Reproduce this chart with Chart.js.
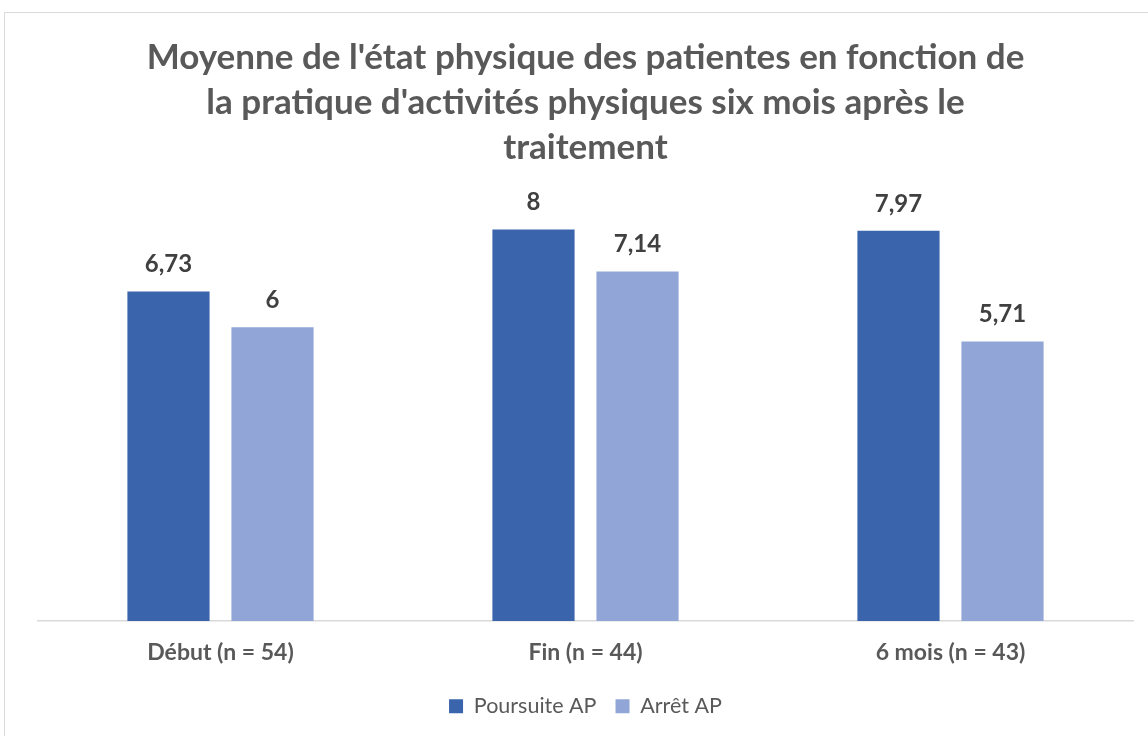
<!DOCTYPE html>
<html>
<head>
<meta charset="utf-8">
<script src="https://cdn.jsdelivr.net/npm/chart.js@4"></script>
<style>
  html, body { margin: 0; padding: 0; background: #fff; }
  #wrap { position: relative; width: 1148px; height: 736px; overflow: hidden; }
  #frame { position: absolute; left: 4px; top: 12px; width: 1200px; height: 800px; border: 1.5px solid #d9d9d9; }
  #myChart { position: absolute; left: 0; top: 0; }
</style>
</head>
<body>
<div id="wrap">
  <div id="frame"></div>
  <canvas id="myChart" width="1148" height="736"></canvas>
</div>
<script>
// data
const categories = ['Début (n = 54)', 'Fin (n = 44)', '6 mois (n = 43)'];
const poursuiteAP = [6.73, 8, 7.97];
const arretAP = [6, 7.14, 5.71];
const seriesNames = ['Poursuite AP', 'Arrêt AP'];

const textColor = '#595959';

// labels above the bars, french decimal comma
const barLabels = {
    id: 'barLabels',
    afterDatasetsDraw(chart) {
        const c = chart.ctx;
        c.save();
        c.font = 'bold 24px Lato';
        c.fillStyle = '#404040';
        c.textAlign = 'center';
        c.textBaseline = 'bottom';
        chart.data.datasets.forEach((ds, i) => {
            chart.getDatasetMeta(i).data.forEach((bar, j) => {
                c.fillText(String(ds.data[j]).replace('.', ','), bar.x, bar.y - 15);
            });
        });
        c.restore();
    }
};

const ctx = document.getElementById('myChart').getContext('2d');

const myChart = new Chart(ctx, {
    type: 'bar',
    data: {
        labels: categories,
        datasets: [{
            label: seriesNames[0],
            data: poursuiteAP,
            backgroundColor: '#3a64ac',
            categoryPercentage: 0.57,
            barPercentage: 0.79
        }, {
            label: seriesNames[1],
            data: arretAP,
            backgroundColor: '#91a6d6',
            categoryPercentage: 0.57,
            barPercentage: 0.79
        }]
    },
    options: {
        responsive: false,
        animation: false,
        layout: {
            padding: { left: 38, right: 15, top: 0, bottom: 9 }
        },
        scales: {
            x: {
                grid: { display: false },
                border: { display: true, color: '#d9d9d9', width: 1.5 },
                ticks: {
                    color: textColor,
                    padding: 10,
                    font: { family: 'Lato', size: 23, weight: 'bold' }
                }
            },
            y: {
                display: false,
                min: 0,
                max: 9
            }
        },
        plugins: {
            title: {
                display: true,
                text: [
                    "Moyenne de l'état physique des patientes en fonction de",
                    "la pratique d'activités physiques six mois après le",
                    'traitement'
                ],
                color: textColor,
                font: { family: 'Lato', size: 35, weight: 'bold', lineHeight: 1.29 },
                padding: { top: 35, bottom: 10 }
            },
            legend: {
                position: 'bottom',
                labels: {
                    color: textColor,
                    boxWidth: 14,
                    boxHeight: 14,
                    padding: 19,
                    font: { family: 'Lato', size: 21.5 }
                }
            },
            tooltip: { enabled: false }
        }
    },
    plugins: [barLabels]
});
</script>
</body>
</html>
